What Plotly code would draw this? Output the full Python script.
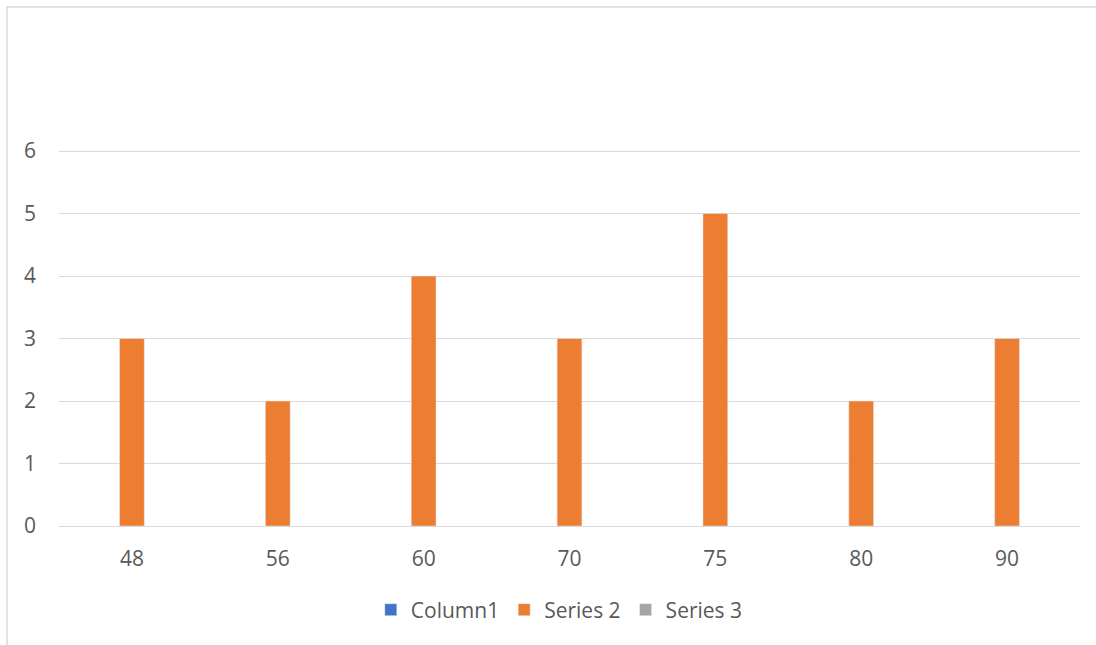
import plotly.graph_objects as go

categories = ["48", "56", "60", "70", "75", "80", "90"]
column1 = [None, None, None, None, None, None, None]
series2 = [3, 2, 4, 3, 5, 2, 3]
series3 = [None, None, None, None, None, None, None]
y_ticks = [0, 1, 2, 3, 4, 5, 6]

W, H = 1096, 645
L, R, T, B = 59, 16, 146, 119
pw, ph = W - L - R, H - T - B

def px_x(p):
    return (p - L) / pw

def px_y(p):
    return (H - B - p) / ph

fig = go.Figure()
fig.add_trace(go.Bar(name="Column1", x=categories, y=column1, marker_color="#4472C4"))
fig.add_trace(go.Bar(name="Series 2", x=categories, y=series2, marker_color="#ED7D31"))
fig.add_trace(go.Bar(name="Series 3", x=categories, y=series3, marker_color="#A5A5A5"))

font = dict(family="Open Sans, Calibri, sans-serif", size=21, color="#595959")

fig.update_layout(
    width=W, height=H,
    margin=dict(l=L, r=R, t=T, b=B),
    paper_bgcolor="white", plot_bgcolor="white",
    barmode="group", bargap=0.49, bargroupgap=0,
    font=font,
    showlegend=True,
    legend=dict(orientation="h", x=0.49, xanchor="center", y=px_y(610), yanchor="middle",
                font=font, traceorder="normal", itemwidth=30, tracegroupgap=0),
    xaxis=dict(type="category", showgrid=False, showline=False, zeroline=False,
               ticks="", tickfont=font, ticklabelstandoff=18),
    yaxis=dict(range=[0, 6 * ph / 375], tickvals=y_ticks, showgrid=True, gridcolor="#D9D9D9", gridwidth=1,
               zeroline=True, zerolinecolor="#D9D9D9", zerolinewidth=1, showline=False,
               ticks="", tickfont=font, ticklabelstandoff=22),
    shapes=[dict(type="rect", xref="paper", yref="paper",
                 x0=px_x(7), x1=px_x(1110), y0=px_y(660), y1=px_y(7),
                 line=dict(color="#D9D9D9", width=1.5), fillcolor="rgba(0,0,0,0)", layer="below")],
)

fig.write_html("out.html")
